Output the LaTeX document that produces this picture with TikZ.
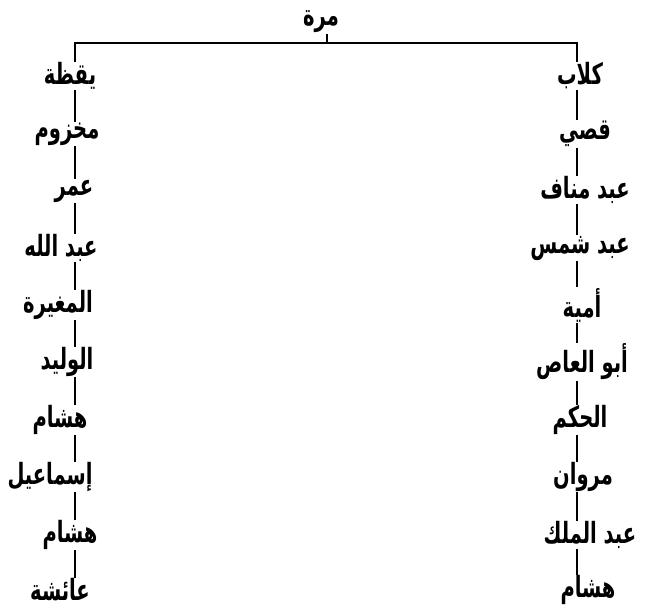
\documentclass[tikz,border=0pt]{standalone}
\usepackage{fontspec}
\usepackage{graphicx}
\newfontfamily\arabicfont[Script=Arabic]{DejaVu Sans}
\TeXXeTstate=1
\newcommand{\artxt}[1]{\scalebox{1}[1.5]{\beginR #1\endR}}
\tikzset{
  lab/.style={font=\arabicfont\bfseries\fontsize{19.5}{22}\selectfont, inner sep=0.5pt},
  link/.style={line width=1.8pt}
}
\begin{document}
\begin{tikzpicture}[x=1pt,y=-1pt]
\useasboundingbox (0,0) rectangle (645,610);
\coordinate (cL) at (75,43);
\coordinate (cR) at (577,43);
\coordinate (cM) at (327,43);
\node[lab] (murra) at (321,22) {\artxt{مرة}};
% left column
\node[lab] (l1) at (70,76) {\artxt{يقظة}};
\node[lab] (l2) at (67,134) {\artxt{مخزوم}};
\node[lab] (l3) at (74,191) {\artxt{عمر}};
\node[lab] (l4) at (61,248) {\artxt{عبد الله}};
\node[lab] (l5) at (58,305) {\artxt{المغيرة}};
\node[lab] (l6) at (67,362) {\artxt{الوليد}};
\node[lab] (l7) at (60,420) {\artxt{هشام}};
\node[lab] (l8) at (50,477) {\artxt{إسماعيل}};
\node[lab] (l9) at (70,535) {\artxt{هشام}};
\node[lab] (l10) at (60,590) {\artxt{عائشة}};
% right column
\node[lab] (r1) at (580,76) {\artxt{كلاب}};
\node[lab] (r2) at (585,134) {\artxt{قصي}};
\node[lab] (r3) at (585,190) {\artxt{عبد مناف}};
\node[lab] (r4) at (580,248) {\artxt{عبد شمس}};
\node[lab] (r5) at (582,305) {\artxt{أمية}};
\node[lab] (r6) at (582,362) {\artxt{أبو العاص}};
\node[lab] (r7) at (580,420) {\artxt{الحكم}};
\node[lab] (r8) at (583,477) {\artxt{مروان}};
\node[lab] (r9) at (590,535) {\artxt{عبد الملك}};
\node[lab] (r10) at (588,590) {\artxt{هشام}};
% top connectors
\draw[link] (murra.south -| cM) -- (cM);
\draw[link] (l1.north -| cL) -- (cL) -- (cR) -- (r1.north -| cR);
% columns
\foreach \a/\b in {l1/l2,l2/l3,l3/l4,l4/l5,l5/l6,l6/l7,l7/l8,l8/l9,l9/l10}
  \draw[link] (\a.south -| cL) -- (\b.north -| cL);
\foreach \a/\b in {r1/r2,r2/r3,r3/r4,r4/r5,r5/r6,r6/r7,r7/r8,r8/r9,r9/r10}
  \draw[link] (\a.south -| cR) -- (\b.north -| cR);
\end{tikzpicture}
\end{document}
